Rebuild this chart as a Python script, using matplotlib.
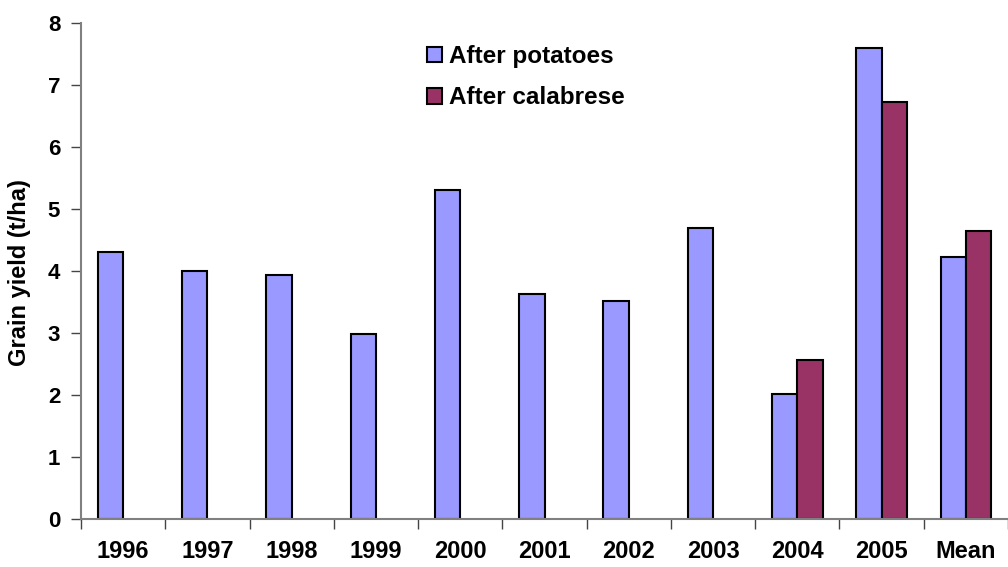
import numpy as np
import matplotlib.pyplot as plt
from matplotlib.ticker import FixedLocator

# values
categories = ['1996', '1997', '1998', '1999', '2000', '2001', '2002', '2003', '2004', '2005', 'Mean']
after_potatoes = [4.31, 4.00, 3.93, 2.99, 5.31, 3.63, 3.51, 4.70, 2.02, 7.60, 4.22]
after_calabrese = [np.nan, np.nan, np.nan, np.nan, np.nan, np.nan, np.nan, np.nan, 2.57, 6.72, 4.64]

plt.rcParams['font.family'] = ['Liberation Sans', 'DejaVu Sans']
plt.rcParams['font.weight'] = 'bold'

fig = plt.figure(figsize=(10.08, 5.67), dpi=100)
ax = fig.add_axes([81 / 1008, 47.7 / 567, 927 / 1008, 496.6 / 567])

x = np.arange(len(categories))
w = 0.3
ax.bar(x - w / 2, after_potatoes, w, color='#9999FF', edgecolor='black', linewidth=1.5,
       label='After potatoes')
ax.bar(x + w / 2, after_calabrese, w, color='#993366', edgecolor='black', linewidth=1.5,
       label='After calabrese')

ax.set_xlim(-0.5, len(categories) - 0.5)
ax.set_ylim(0, 8)
ax.set_yticks(range(0, 9))

# tick marks between categories, labels at the centres
ax.xaxis.set_major_locator(FixedLocator(np.arange(-0.5, len(categories), 1.0)))
ax.xaxis.set_minor_locator(FixedLocator(x))
ax.xaxis.set_major_formatter(plt.NullFormatter())
ax.set_xticks(x, categories, minor=True)
ax.tick_params(axis='x', which='major', length=7, width=1, direction='out', color='#444444')
ax.tick_params(axis='x', which='minor', length=0, pad=15, labelsize=17)
ax.tick_params(axis='y', length=7, width=1, color='#444444', pad=8, labelsize=16)

for s in ['top', 'right']:
    ax.spines[s].set_visible(False)
for s in ['left', 'bottom']:
    ax.spines[s].set_color('#808080')
    ax.spines[s].set_linewidth(1.5)

fig.text(20 / 1008, 1 - 273 / 567, 'Grain yield (t/ha)', rotation=90, ha='center', va='center',
         fontsize=17, fontweight='bold')

ax.legend(loc='upper left', bbox_to_anchor=(427 / 1008, 1 - 45 / 567), bbox_transform=fig.transFigure,
          frameon=False, fontsize=17.5, handlelength=0.62, handleheight=0.62, handletextpad=0.3,
          labelspacing=0.76, borderaxespad=0, borderpad=0)

fig.savefig('out.png', dpi=100)
